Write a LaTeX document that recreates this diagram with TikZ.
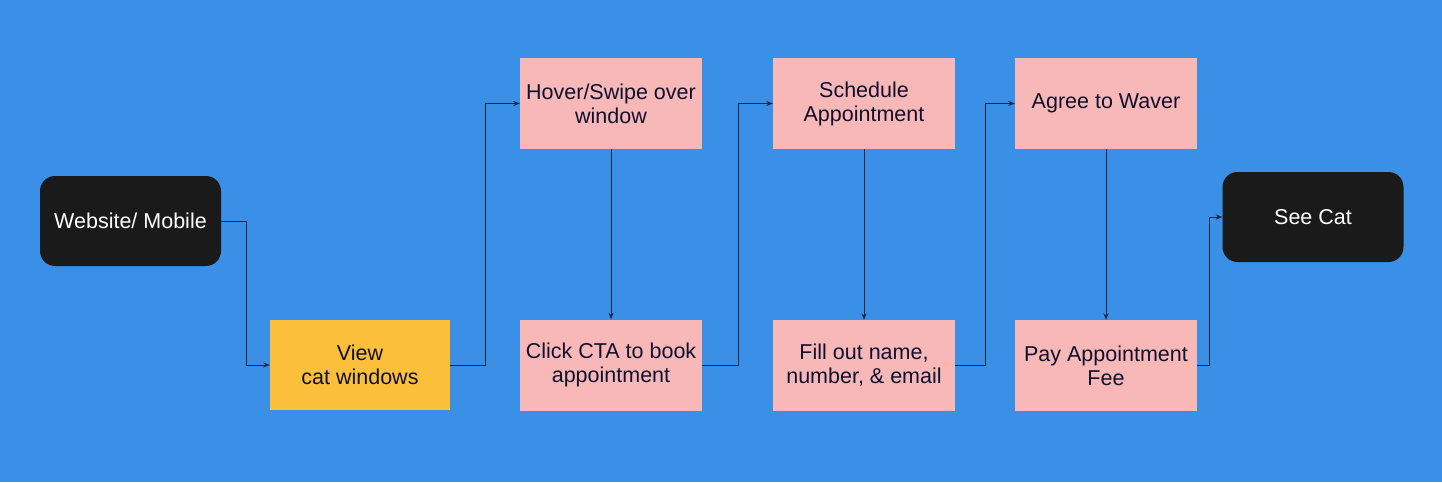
\documentclass[tikz,border=0pt]{standalone}
\usepackage{fontspec}
\setmainfont{Liberation Sans}
\usetikzlibrary{arrows.meta,positioning}
\definecolor{bg}{HTML}{3A8FE6}
\definecolor{pinkbox}{HTML}{F8B8B8}
\definecolor{yellowbox}{HTML}{FBBF3B}
\definecolor{darkbox}{HTML}{1A1A1A}
\definecolor{navytext}{HTML}{10102E}
\definecolor{linec}{HTML}{1A2840}
\begin{document}
\begin{tikzpicture}[x=1pt,y=-1pt,
  every node/.style={font=\fontsize{21.5}{24}\selectfont, align=center, inner sep=0pt},
  pinkstep/.style={fill=pinkbox, text=navytext, minimum width=182pt, minimum height=91pt},
  yellowstep/.style={fill=yellowbox, text=navytext, minimum width=180pt, minimum height=90pt},
  termbox/.style={fill=darkbox, text=white, rounded corners=15pt, minimum width=181pt, minimum height=90pt},
  conn/.style={draw=linec, line width=1pt, -{Stealth[length=6.5pt,width=5pt]}}
]
\fill[bg] (0,0) rectangle (1442,482);
\useasboundingbox (0,0) rectangle (1442,482);

\node[termbox] (web) at (130.5,221) {Website/ Mobile};
\node[yellowstep] (view) at (360,365) {View\\cat windows};
\node[pinkstep] (hover) at (611,103.5) {Hover/Swipe over\\window};
\node[pinkstep] (click) at (611,365) {Click CTA to book\\appointment};
\node[pinkstep] (sched) at (864,103.5) {Schedule\\Appointment};
\node[pinkstep] (fill) at (864,365.5) {Fill out name,\\number, \& email};
\node[pinkstep] (agree) at (1106,103.5) {Agree to Waver};
\node[pinkstep] (pay) at (1106,365.5) {Pay Appointment\\Fee};
\node[termbox] (cat) at (1313,217) {See Cat};

\draw[conn] (web.east) -- ++(25,0) |- (view.west);
\draw[conn] (view.east) -- ++(35,0) |- (hover.west);
\draw[conn] (hover.south) -- (click.north);
\draw[conn] (click.east) -- ++(36,0) |- (sched.west);
\draw[conn] (sched.south) -- (fill.north);
\draw[conn] (fill.east) -- ++(30,0) |- (agree.west);
\draw[conn] (agree.south) -- (pay.north);
\draw[conn] (pay.east) -- ++(12,0) |- (cat.west);
\end{tikzpicture}
\end{document}
